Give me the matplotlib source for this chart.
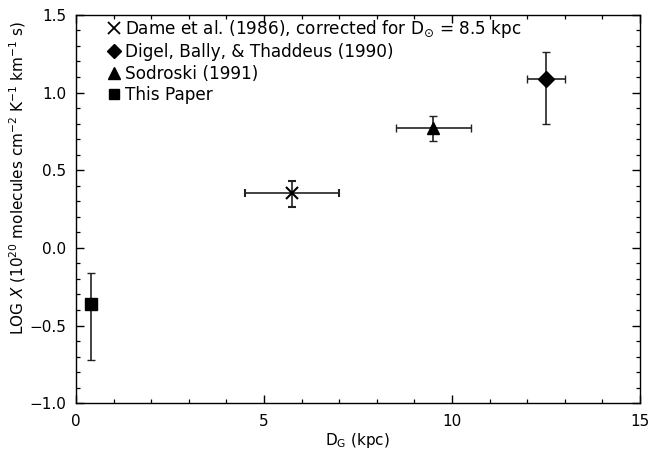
import matplotlib
matplotlib.use("Agg")
import matplotlib.pyplot as plt
from matplotlib.lines import Line2D
from matplotlib.ticker import MultipleLocator

plt.rcParams['font.family'] = ['DejaVu Sans']
plt.rcParams['mathtext.fontset'] = 'dejavusans'

labels = ["Dame et al. (1986), corrected for D$_{\\odot}$ = 8.5 kpc",
          "Digel, Bally, & Thaddeus (1990)",
          "Sodroski (1991)",
          "This Paper"]
markers = ["x", "D", "^", "s"]
x_vals = [5.75, 12.5, 9.5, 0.4]
y_vals = [0.35, 1.09, 0.77, -0.36]
xerr_lo = [1.25, 0.5, 1.0, 0.0]
xerr_hi = [1.25, 0.5, 1.0, 0.0]
yerr_lo = [0.09, 0.29, 0.08, 0.36]
yerr_hi = [0.08, 0.17, 0.08, 0.20]
marker_sizes = [9, 8, 9, 8]
xticks = [0, 5, 10, 15]
yticks = [-1.0, -0.5, 0.0, 0.5, 1.0, 1.5]

fig = plt.figure(figsize=(6.49, 4.5), dpi=100)
ax = fig.add_axes([0.117, 0.104, 0.869, 0.863])

for i in range(len(x_vals)):
    xe = [[xerr_lo[i]], [xerr_hi[i]]] if xerr_hi[i] > 0 else None
    ax.errorbar([x_vals[i]], [y_vals[i]],
                xerr=xe, yerr=[[yerr_lo[i]], [yerr_hi[i]]],
                fmt=markers[i], color='black', ecolor='#222222',
                ms=marker_sizes[i], mew=1.5 if markers[i] == 'x' else 1,
                elinewidth=1.2, capsize=3, capthick=1.2)

ax.set_xlim(0, 15)
ax.set_ylim(-1.0, 1.5)
ax.xaxis.set_minor_locator(MultipleLocator(1))
ax.yaxis.set_minor_locator(MultipleLocator(0.1))
ax.set_xticks(xticks)
ax.set_xticklabels([str(t) for t in xticks])
ax.set_yticks(yticks)
ax.set_yticklabels([f"{t:.1f}".replace('-', '\u2212') for t in yticks])
ax.tick_params(which='both', direction='in', top=True, right=True, labelsize=11)
ax.tick_params(which='major', length=6, width=1.0)
ax.tick_params(which='minor', length=3, width=0.9)
ax.tick_params(axis='x', pad=8)
ax.tick_params(axis='y', pad=7)
for s in ax.spines.values():
    s.set_linewidth(1.0)

ax.set_xlabel("D$_{\\mathrm{G}}$ (kpc)", fontsize=11, labelpad=1)
ax.set_ylabel("LOG $\\mathit{X}$ (10$^{20}$ molecules cm$^{-2}$ K$^{-1}$ km$^{-1}$ s)", fontsize=11)
ax.yaxis.set_label_coords(-0.085, 0.58)

handles = [Line2D([], [], linestyle='none', marker=markers[i], color='black',
                  ms=marker_sizes[i] - 1, mew=1.3 if markers[i] == 'x' else 1)
           for i in range(len(labels))]
leg = ax.legend(handles, labels, loc='upper left', frameon=False, fontsize=12.2,
                handlelength=0.6, handletextpad=0.35, labelspacing=0.2,
                borderaxespad=0.0, bbox_to_anchor=(0.046, 1.01))

fig.savefig("out.png", dpi=100)
